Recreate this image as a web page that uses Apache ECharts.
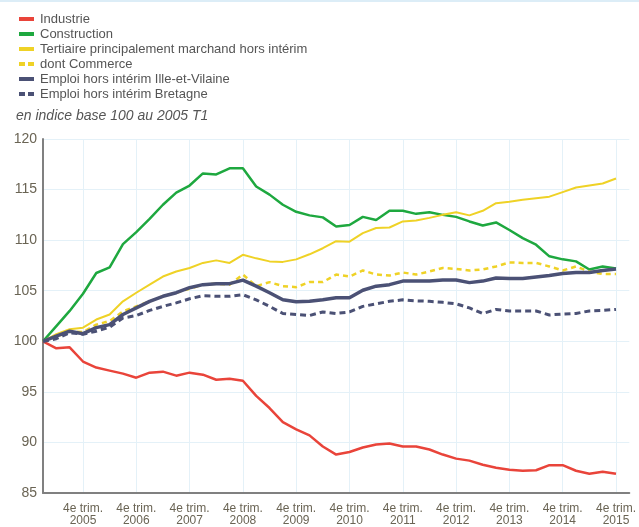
<!DOCTYPE html>
<html>
<head>
<meta charset="utf-8">
<script src="https://cdn.jsdelivr.net/npm/echarts@6/dist/echarts.min.js"></script>
<style>
  html, body { margin: 0; padding: 0; background: #fff; }
  #box { width: 639px; height: 527px; }
</style>
</head>
<body>
<div id="box"></div>
<script>
// trimestres 2005 T1 -> 2015 T4 (index 0..43)
var years = [2005, 2006, 2007, 2008, 2009, 2010, 2011, 2012, 2013, 2014, 2015];

var industrie = [100, 99.3, 99.4, 98.0, 97.4, 97.1, 96.8, 96.4, 96.9, 97.0, 96.6, 96.9, 96.7, 96.2, 96.3, 96.1,
  94.6, 93.4, 92.0, 91.3, 90.7, 89.6, 88.8, 89.05, 89.5, 89.8, 89.9, 89.6, 89.6, 89.3,
  88.8, 88.4, 88.2, 87.8, 87.5, 87.3, 87.2, 87.25, 87.75, 87.75, 87.2, 86.9, 87.1, 86.9];

var construction = [100, 101.5, 103.0, 104.7, 106.75, 107.3, 109.6, 110.8, 112.1, 113.5, 114.7, 115.4, 116.6, 116.5, 117.1, 117.1,
  115.3, 114.5, 113.5, 112.8, 112.45, 112.25, 111.35, 111.5, 112.3, 112.0, 112.9, 112.9, 112.6, 112.75,
  112.5, 112.3, 111.85, 111.45, 111.75, 111.0, 110.2, 109.55, 108.4, 108.1, 107.9, 107.1, 107.4, 107.2];

var tertiaire = [100, 100.7, 101.2, 101.35, 102.15, 102.65, 103.95, 104.8, 105.6, 106.4, 106.9, 107.25, 107.75, 108.0, 107.75, 108.55,
  108.2, 107.9, 107.85, 108.1, 108.6, 109.2, 109.9, 109.85, 110.7, 111.2, 111.25, 111.85, 111.95, 112.2,
  112.5, 112.75, 112.45, 112.9, 113.65, 113.8, 114.0, 114.15, 114.3, 114.75, 115.2, 115.4, 115.6, 116.1];

var commerce = [100, 100.45, 101.0, 100.9, 101.65, 102.0, 102.95, 103.45, 103.95, 104.45, 104.8, 105.2, 105.6, 105.7, 105.6, 106.6,
  105.45, 105.85, 105.45, 105.35, 105.85, 105.85, 106.6, 106.4, 107.0, 106.6, 106.5, 106.8, 106.6, 106.9,
  107.25, 107.15, 107.0, 107.1, 107.4, 107.8, 107.75, 107.75, 107.4, 107.0, 107.4, 106.9, 106.65, 106.65];

var illeEtVilaine = [100, 100.5, 101.0, 100.75, 101.35, 101.65, 102.65, 103.3, 103.95, 104.45, 104.8, 105.3, 105.6, 105.7, 105.7, 106.05,
  105.45, 104.8, 104.1, 103.9, 103.95, 104.1, 104.3, 104.3, 105.05, 105.45, 105.6, 105.95, 105.95, 105.95,
  106.05, 106.05, 105.8, 105.95, 106.25, 106.2, 106.2, 106.35, 106.5, 106.7, 106.8, 106.8, 107.0, 107.15];

var bretagne = [100, 100.25, 100.85, 100.7, 101.0, 101.4, 102.3, 102.55, 103.05, 103.45, 103.8, 104.2, 104.5, 104.45, 104.45, 104.6,
  104.1, 103.45, 102.75, 102.65, 102.55, 102.9, 102.75, 102.9, 103.45, 103.7, 103.95, 104.1, 104.0, 103.95,
  103.85, 103.7, 103.3, 102.75, 103.15, 103.0, 103.0, 103.0, 102.6, 102.7, 102.75, 103.0, 103.05, 103.15];

var names = ['Industrie', 'Construction', 'Tertiaire principalement marchand hors intérim',
  'dont Commerce', 'Emploi hors intérim Ille-et-Vilaine', 'Emploi hors intérim Bretagne'];

// positions des libellés "4e trim." (T4 de chaque année)
var t4 = years.map(function (y, i) { return i * 4 + 3; });

function pts(arr) {
  return arr.map(function (v, i) { return [i, v]; });
}

var myChart = echarts.init(document.getElementById('box'));

var txt = '#6a6454';
var grid = '#e4f1f8';
var plein = 'rect';
var tirets = 'path://M0,0h6v4h-6zM9,0h6v4h-6z';

function serie(name, data, color, width, dash) {
  return {
    name: name,
    type: 'line',
    data: pts(data),
    symbol: 'none',
    smooth: false,
    lineStyle: { color: color, width: width, type: dash || 'solid' },
    itemStyle: { color: color }
  };
}

var option = {
  animation: false,
  backgroundColor: '#fff',
  textStyle: { fontFamily: 'Arial, "Liberation Sans", sans-serif' },
  title: {
    text: 'en indice base 100 au 2005 T1',
    left: 11,
    top: 104,
    textStyle: { fontSize: 14, fontStyle: 'italic', fontWeight: 'normal', color: '#555' }
  },
  legend: {
    orient: 'vertical',
    left: 14,
    top: 7,
    itemWidth: 15,
    itemHeight: 4,
    itemGap: 1,
    textStyle: { fontSize: 13, color: '#555', lineHeight: 14, padding: [0, 0, 0, 1] },
    data: [
      { name: names[0], icon: plein },
      { name: names[1], icon: plein },
      { name: names[2], icon: plein },
      { name: names[3], icon: tirets },
      { name: names[4], icon: plein },
      { name: names[5], icon: tirets }
    ]
  },
  grid: { left: 43, right: 6, top: 139, bottom: 33, containLabel: false },
  xAxis: {
    type: 'value',
    min: 0,
    max: 44,
    axisLine: { show: true, lineStyle: { color: '#808080', width: 2 } },
    axisTick: { show: false, customValues: t4 },
    axisLabel: {
      customValues: t4,
      color: txt,
      fontSize: 12,
      lineHeight: 12,
      margin: 10,
      formatter: function (v) { return '4e trim.\n' + years[(v - 3) / 4]; }
    },
    splitLine: { show: true, lineStyle: { color: grid, width: 1 } }
  },
  yAxis: {
    type: 'value',
    min: 85,
    max: 120,
    interval: 5,
    axisLine: { show: true, lineStyle: { color: '#808080', width: 2 } },
    axisTick: { show: false },
    axisLabel: { color: txt, fontSize: 14, margin: 6 },
    splitLine: { show: true, lineStyle: { color: grid, width: 1 } }
  },
  graphic: [{
    type: 'line',
    shape: { x1: 0, y1: 1, x2: 639, y2: 1 },
    style: { stroke: '#dcedf7', lineWidth: 2 }
  }],
  series: [
    serie(names[0], industrie, '#e9443a', 2.5),
    serie(names[1], construction, '#1ea83f', 2.5),
    serie(names[2], tertiaire, '#efd226', 2),
    serie(names[3], commerce, '#efd226', 2.5, [5, 4]),
    serie(names[4], illeEtVilaine, '#4b5175', 3.5),
    serie(names[5], bretagne, '#4b5175', 3, [6, 4])
  ]
};

myChart.setOption(option);
</script>
</body>
</html>
